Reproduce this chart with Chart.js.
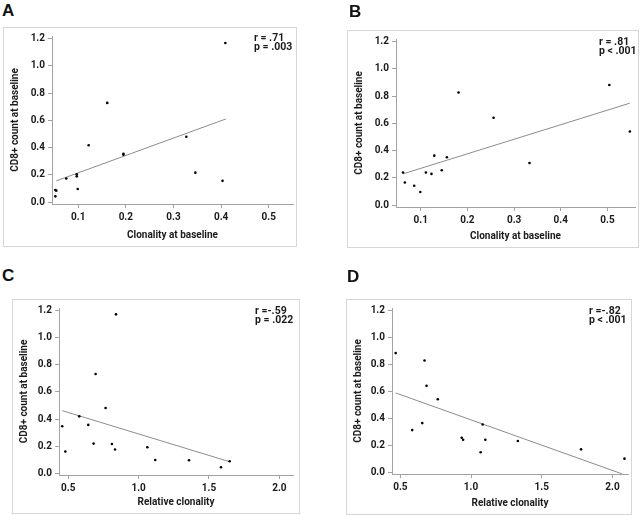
<!DOCTYPE html>
<html>
<head>
<meta charset="utf-8">
<script src="https://cdn.jsdelivr.net/npm/chart.js@4.4.1/dist/chart.umd.min.js"></script>
<style>
  body { margin: 0; background: #fff; width: 640px; height: 515px; position: relative; overflow: hidden; font-family: Roboto, sans-serif; }
  .box { position: absolute; border: 1px solid #d6d6d6; box-sizing: border-box; }
  .cv { position: absolute; }
  .letter { position: absolute; font: bold 17px "Liberation Sans", Arial, sans-serif; color: #111; line-height: 1; }
  .stat { position: absolute; font: bold 10.5px Roboto, sans-serif; color: #1a1a1a; line-height: 8.5px; white-space: pre; }
</style>
</head>
<body>
<script>
// panel A: clonality at baseline vs CD8+ count
const aX = [0.052, 0.052, 0.054, 0.075, 0.097, 0.097, 0.099, 0.122, 0.161, 0.195, 0.195, 0.327, 0.346, 0.403, 0.409];
const aY = [0.043, 0.090, 0.085, 0.174, 0.205, 0.190, 0.097, 0.418, 0.729, 0.355, 0.348, 0.481, 0.217, 0.157, 1.169];
const aFitX = [0.054, 0.410];
const aFitY = [0.157, 0.611];

// panel B
const bX = [0.062, 0.066, 0.086, 0.099, 0.111, 0.123, 0.129, 0.145, 0.156, 0.181, 0.256, 0.333, 0.504, 0.548];
const bY = [0.240, 0.167, 0.143, 0.097, 0.240, 0.230, 0.364, 0.257, 0.352, 0.827, 0.642, 0.310, 0.882, 0.541];
const bFitX = [0.062, 0.548];
const bFitY = [0.230, 0.749];

// panel C: relative clonality
const cX = [0.457, 0.479, 0.578, 0.642, 0.680, 0.694, 0.765, 0.810, 0.832, 0.839, 1.062, 1.118, 1.358, 1.585, 1.647];
const cY = [0.347, 0.160, 0.420, 0.357, 0.219, 0.733, 0.482, 0.216, 0.175, 1.173, 0.192, 0.098, 0.096, 0.044, 0.089];
const cFitX = [0.457, 1.647];
const cFitY = [0.462, 0.085];

// panel D
const dX = [0.467, 0.584, 0.655, 0.671, 0.685, 0.765, 0.934, 0.944, 1.068, 1.082, 1.101, 1.331, 1.778, 2.085];
const dY = [0.885, 0.313, 0.365, 0.830, 0.643, 0.542, 0.256, 0.241, 0.148, 0.355, 0.241, 0.232, 0.170, 0.101];
const dFitX = [0.467, 2.068];
const dFitY = [0.589, -0.012];

// ticks
const yTicks = [0, 0.2, 0.4, 0.6, 0.8, 1.0, 1.2];
const clonTicks = [0.1, 0.2, 0.3, 0.4, 0.5];
const relTicks = [0.5, 1.0, 1.5, 2.0];

const yTitle = "CD8+ count at baseline";

// box = border rect, plot = axis rect (page px)
const panels = [
  { letter: "A", lx: 2, ly: 2, xs: aX, ys: aY, fx: aFitX, fy: aFitY, xTicks: clonTicks, xMin: 0.045, xMax: 0.551,
    xTitle: "Clonality at baseline", stat: "r = .71\np = .003", sx: 254, sy: 34,
    box: [3, 27, 297, 247], plot: [52, 35, 293, 204] },
  { letter: "B", lx: 349, ly: 3, xs: bX, ys: bY, fx: bFitX, fy: bFitY, xTicks: clonTicks, xMin: 0.047, xMax: 0.559,
    xTitle: "Clonality at baseline", stat: "r = .81\np < .001", sx: 599, sy: 38,
    box: [347, 30, 639, 248], plot: [396, 38, 635, 207] },
  { letter: "C", lx: 2, ly: 267, xs: cX, ys: cY, fx: cFitX, fy: cFitY, xTicks: relTicks, xMin: 0.434, xMax: 2.097,
    xTitle: "Relative clonality", stat: "r =-.59\np = .022", sx: 255, sy: 307,
    box: [12, 299, 300, 514], plot: [59, 307, 293, 475] },
  { letter: "D", lx: 347, ly: 268, xs: dX, ys: dY, fx: dFitX, fy: dFitY, xTicks: relTicks, xMin: 0.441, xMax: 2.11,
    xTitle: "Relative clonality", stat: "r =-.82\np < .001", sx: 589, sy: 307,
    box: [346, 299, 632, 515], plot: [392, 307, 629, 474] },
];

const axisGrey = "#a3a3a3";
const textCol = "#1a1a1a";
const tickFont = { family: "Roboto", size: 10, weight: "bold" };
const titleFont = { family: "Roboto", size: 10, weight: "bold" };

function place(el, l, t, w, h) {
  el.style.left = l + "px";
  el.style.top = t + "px";
  if (w != null) { el.style.width = w + "px"; el.style.height = h + "px"; }
}

panels.forEach(p => {
  const [bl, bt, br, bb] = p.box;
  const [pl, pt, pr, pb] = p.plot;
  const w = br - bl, h = bb - bt;

  const border = document.createElement("div");
  border.className = "box";
  place(border, bl, bt, w, h);
  document.body.appendChild(border);

  const canvas = document.createElement("canvas");
  canvas.className = "cv";
  canvas.width = w;
  canvas.height = h;
  place(canvas, bl, bt);
  document.body.appendChild(canvas);

  const letter = document.createElement("div");
  letter.className = "letter";
  letter.textContent = p.letter;
  place(letter, p.lx, p.ly);
  document.body.appendChild(letter);

  const stat = document.createElement("div");
  stat.className = "stat";
  stat.textContent = p.stat;
  place(stat, p.sx, p.sy);
  document.body.appendChild(stat);

  const yWidth = pl - bl;
  const xHeight = bb - pb;

  new Chart(canvas.getContext("2d"), {
    type: "scatter",
    data: {
      datasets: [
        {
          data: p.xs.map((x, i) => ({ x: x, y: p.ys[i] })),
          backgroundColor: "#000",
          borderColor: "#000",
          pointRadius: 1.3,
          pointBorderWidth: 0,
        },
        {
          type: "line",
          data: p.fx.map((x, i) => ({ x: x, y: p.fy[i] })),
          borderColor: "#8c8c8c",
          borderWidth: 1,
          pointRadius: 0,
          fill: false,
        },
      ],
    },
    options: {
      responsive: false,
      animation: false,
      layout: { padding: { left: 0, top: pt - bt, right: br - pr, bottom: 0 } },
      plugins: { legend: { display: false }, tooltip: { enabled: false } },
      scales: {
        x: {
          type: "linear",
          min: p.xMin,
          max: p.xMax,
          afterBuildTicks: s => { s.ticks = p.xTicks.map(v => ({ value: v })); },
          afterFit: s => { s.height = xHeight; },
          ticks: { color: textCol, font: tickFont, padding: 3, callback: v => v.toFixed(1), maxRotation: 0 },
          grid: { drawOnChartArea: false, drawTicks: true, tickLength: 4, color: axisGrey },
          border: { color: axisGrey },
          title: { display: true, text: p.xTitle, color: textCol, font: titleFont, padding: { top: 0, bottom: 6 } },
        },
        y: {
          type: "linear",
          min: -0.013,
          max: 1.22,
          afterBuildTicks: s => { s.ticks = yTicks.map(v => ({ value: v })); },
          afterFit: s => { s.width = yWidth; },
          ticks: { color: textCol, font: tickFont, padding: 3, callback: v => v.toFixed(1) },
          grid: { drawOnChartArea: false, drawTicks: true, tickLength: 4, color: axisGrey },
          border: { color: axisGrey },
          title: { display: true, text: yTitle, color: textCol, font: titleFont, padding: { top: 6, bottom: 0 } },
        },
      },
    },
  });
});
</script>
</body>
</html>
